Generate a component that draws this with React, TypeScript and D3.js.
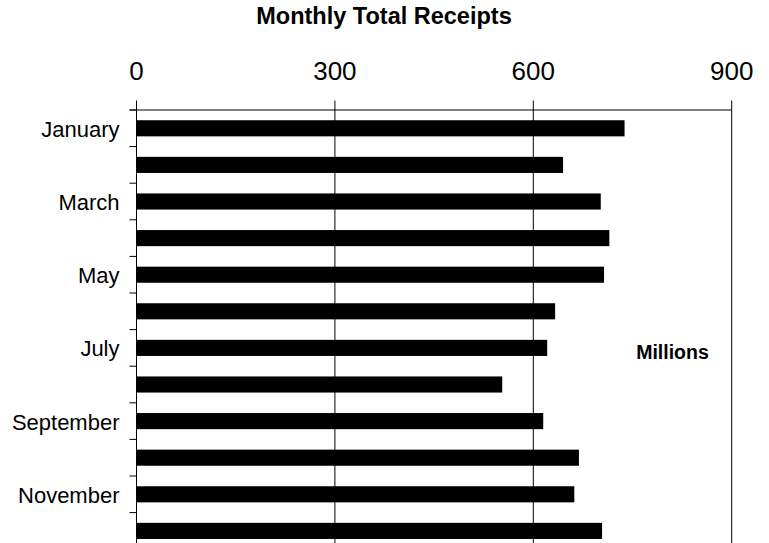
import React from "react";
import * as d3 from "d3";

const months = ["January","February","March","April","May","June","July","August","September","October","November","December"];
const receipts = [738, 645, 702, 715, 707, 633, 621, 553, 615, 669, 662, 704];
const xTicks = [0, 300, 600, 900];
const labelMonths = ["January","March","May","July","September","November"];

export default function App() {
  const W = 769, H = 543;
  const left = 136.5, right = 731.7, top = 110, bandH = 36.6;
  const bottom = top + bandH * months.length;
  const x = d3.scaleLinear().domain([0, 900]).range([left, right]);
  const y = d3.scaleBand().domain(months).range([top, bottom]).paddingInner(0.56).paddingOuter(0.28);
  const font = "Arial, 'Liberation Sans', Helvetica, sans-serif";
  return (
    <svg width={W} height={H} style={{ position: "absolute", left: 0, top: 0 }} fontFamily={font}>
      <rect width={W} height={H} fill="#fff" />
      <text x={384} y={24} textAnchor="middle" fontSize={23.5} fontWeight="bold">Monthly Total Receipts</text>
      {xTicks.map(t => (
        <g key={t}>
          <text x={x(t)} y={79.5} textAnchor="middle" fontSize={26}>{t}</text>
          <line x1={x(t)} x2={x(t)} y1={100.5} y2={bottom} stroke="#000" strokeWidth={1} />
        </g>
      ))}
      <line x1={left - 7} x2={right} y1={top} y2={top} stroke="#000" strokeWidth={1} />
      {months.map((m, i) => (
        <line key={m} x1={left - 7} x2={left} y1={top + i * bandH} y2={top + i * bandH} stroke="#000" strokeWidth={1} />
      ))}
      {months.map((m, i) => (
        <rect key={m} x={x(0)} y={y(m)} width={x(receipts[i]) - x(0)} height={y.bandwidth()} fill="#000" />
      ))}
      {labelMonths.map(m => (
        <text key={m} x={119.5} y={(y(m) ?? 0) + y.bandwidth() / 2 + 8.4} textAnchor="end" fontSize={22}>{m}</text>
      ))}
      <text x={672.5} y={359.3} textAnchor="middle" fontSize={19.5} fontWeight="bold">Millions</text>
    </svg>
  );
}
